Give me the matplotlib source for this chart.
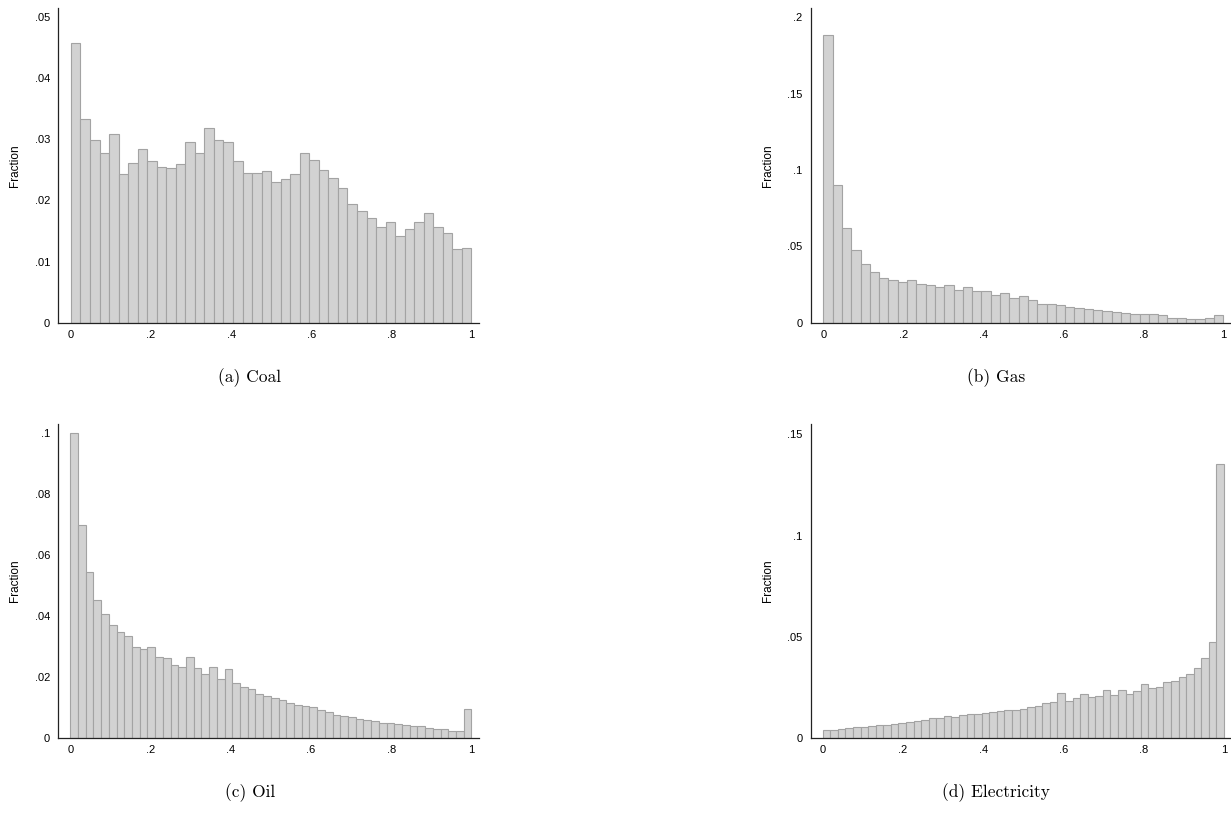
import numpy as np
import matplotlib.pyplot as plt

# bar heights (fraction per bin), bins span 0..1
coal = [0.0457, 0.0334, 0.0299, 0.0278, 0.0309, 0.0243, 0.0261, 0.0284, 0.0264, 0.0254,
        0.0253, 0.0259, 0.0295, 0.0277, 0.0319, 0.0299, 0.0295, 0.0265, 0.0245, 0.0245,
        0.0248, 0.0230, 0.0235, 0.0243, 0.0278, 0.0266, 0.0250, 0.0236, 0.0221, 0.0194,
        0.0182, 0.0172, 0.0157, 0.0164, 0.0142, 0.0153, 0.0164, 0.0179, 0.0157, 0.0146,
        0.0120, 0.0122]
gas = [0.1884, 0.0902, 0.0622, 0.0474, 0.0384, 0.0330, 0.0295, 0.0282, 0.0269, 0.0277,
       0.0251, 0.0245, 0.0231, 0.0245, 0.0216, 0.0236, 0.0205, 0.0205, 0.0181, 0.0194,
       0.0159, 0.0172, 0.0146, 0.0120, 0.0120, 0.0114, 0.0100, 0.0094, 0.0087, 0.0083,
       0.0074, 0.0070, 0.0063, 0.0059, 0.0059, 0.0055, 0.0048, 0.0031, 0.0033, 0.0026,
       0.0026, 0.0028, 0.0048]
oil = [0.1000, 0.0699, 0.0545, 0.0451, 0.0406, 0.0369, 0.0347, 0.0333, 0.0300, 0.0291,
       0.0300, 0.0267, 0.0264, 0.0239, 0.0234, 0.0267, 0.0229, 0.0210, 0.0234, 0.0195,
       0.0226, 0.0182, 0.0169, 0.0162, 0.0145, 0.0138, 0.0131, 0.0124, 0.0117, 0.0108,
       0.0105, 0.0103, 0.0092, 0.0085, 0.0076, 0.0073, 0.0069, 0.0062, 0.0059, 0.0056,
       0.0049, 0.0049, 0.0046, 0.0043, 0.0039, 0.0039, 0.0033, 0.0031, 0.0031, 0.0025,
       0.0023, 0.0096]
elec = [0.0041, 0.0041, 0.0045, 0.0050, 0.0054, 0.0054, 0.0061, 0.0064, 0.0064, 0.0071,
        0.0076, 0.0081, 0.0086, 0.0091, 0.0099, 0.0102, 0.0111, 0.0106, 0.0117, 0.0122,
        0.0122, 0.0127, 0.0129, 0.0134, 0.0142, 0.0140, 0.0146, 0.0155, 0.0158, 0.0173,
        0.0178, 0.0222, 0.0184, 0.0197, 0.0217, 0.0204, 0.0209, 0.0240, 0.0214, 0.0237,
        0.0219, 0.0235, 0.0266, 0.0247, 0.0253, 0.0278, 0.0283, 0.0303, 0.0317, 0.0345,
        0.0395, 0.0474, 0.1354]

captions = ['(a) Coal', '(b) Gas', '(c) Oil', '(d) Electricity']
xticks = [0, 0.2, 0.4, 0.6, 0.8, 1]
xticklabels = ['0', '.2', '.4', '.6', '.8', '1']
coal_yticks = [0, 0.01, 0.02, 0.03, 0.04, 0.05]
coal_ylabels = ['0', '.01', '.02', '.03', '.04', '.05']
gas_yticks = [0, 0.05, 0.1, 0.15, 0.2]
gas_ylabels = ['0', '.05', '.1', '.15', '.2']
oil_yticks = [0, 0.02, 0.04, 0.06, 0.08, 0.1]
oil_ylabels = ['0', '.02', '.04', '.06', '.08', '.1']
elec_yticks = [0, 0.05, 0.1, 0.15]
elec_ylabels = ['0', '.05', '.1', '.15']

W, H = 1231, 825
fig = plt.figure(figsize=(W / 100, H / 100), dpi=100)


def px_axes(x0, y0, x1, y1):
    # pixel box (left, top, right, bottom) -> figure fraction
    return fig.add_axes([x0 / W, 1 - y1 / H, (x1 - x0) / W, (y1 - y0) / H])


def draw_hist(ax, heights, yticks, ylabels, xlim, ylim):
    n = len(heights)
    edges = np.linspace(0, 1, n + 1)
    ax.bar(edges[:-1], heights, width=1 / n, align='edge',
           color='#d2d2d2', edgecolor='#a3a3a3', linewidth=0.8)
    ax.set_xlim(xlim)
    ax.set_ylim(ylim)
    ax.set_xticks(xticks)
    ax.set_xticklabels(xticklabels)
    ax.set_yticks(yticks)
    ax.set_yticklabels(ylabels)
    for s in ['top', 'right']:
        ax.spines[s].set_visible(False)
    for s in ['left', 'bottom']:
        ax.spines[s].set_linewidth(0.9)
        ax.spines[s].set_color('#222222')
    ax.tick_params(length=0, labelsize=8)
    ax.tick_params(axis='y', pad=6)
    ax.tick_params(axis='x', pad=5)
    for lab in ax.get_xticklabels() + ax.get_yticklabels():
        lab.set_family('Liberation Sans')
    ax.set_ylabel('Fraction', fontsize=8.5, family='Liberation Sans', va='center')
    ax.yaxis.set_label_coords(-0.103, 0.5)


ax_a = px_axes(58.3, 8, 479, 322.7)
draw_hist(ax_a, coal, coal_yticks, coal_ylabels, (-0.0315, 1.019), (0, 0.0515))

ax_b = px_axes(811, 8.3, 1230, 322.7)
draw_hist(ax_b, gas, gas_yticks, gas_ylabels, (-0.031, 1.017), (0, 0.206))

ax_c = px_axes(58.3, 424, 479, 738.3)
draw_hist(ax_c, oil, oil_yticks, oil_ylabels, (-0.030, 1.019), (0, 0.1028))

ax_d = px_axes(811, 423.5, 1230, 738.3)
draw_hist(ax_d, elec, elec_yticks, elec_ylabels, (-0.029, 1.015), (0, 0.1554))

cap_pos = [(250, 378), (996, 378), (250, 793), (996, 793)]
for (cx, cy), txt in zip(cap_pos, captions):
    fig.text(cx / W, 1 - cy / H, txt, ha='center', va='center',
             fontsize=12.5, family='cmr10')

fig.savefig('out.png', dpi=100)
